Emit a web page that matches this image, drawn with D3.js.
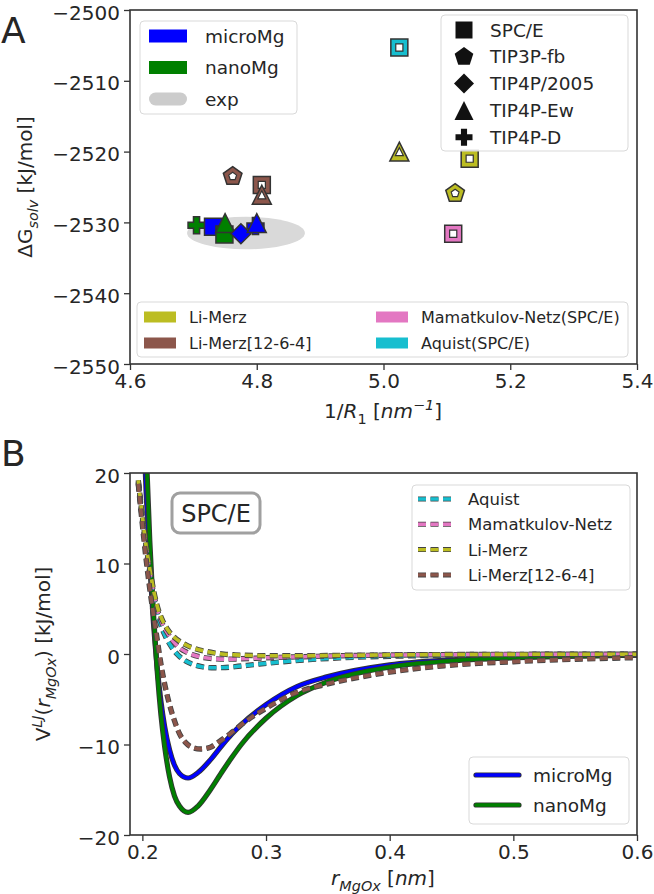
<!DOCTYPE html>
<html><head><meta charset="utf-8">
<script src="https://cdn.jsdelivr.net/npm/d3@7"></script>
<style>body{margin:0;background:#fff}svg{display:block;font-family:"DejaVu Sans",sans-serif}</style>
</head><body><svg id="c" width="654" height="894"></svg>
<script>
// ---------------- Panel A data ----------------
const invRTicks = [4.6, 4.8, 5.0, 5.2, 5.4];
const dGTicks = [-2550, -2540, -2530, -2520, -2510, -2500];
const waterModels = ["SPC/E", "TIP3P-fb", "TIP4P/2005", "TIP4P-Ew", "TIP4P-D"];
const waterShapes = ["square", "pentagon", "diamond", "triangle", "plus"];
const ionModels = ["Li-Merz", "Li-Merz[12-6-4]", "Mamatkulov-Netz(SPC/E)", "Aquist(SPC/E)"];
const ionColors = ["#bcbd22", "#8c564b", "#e377c2", "#17becf"];
const mgModels = ["microMg", "nanoMg"];
const mgColors = ["#0000ff", "#008000"];

const microMgWater = ["SPC/E", "TIP4P/2005", "TIP4P-D", "TIP4P-Ew"];
const microMgInvR = [4.731, 4.775, 4.798, 4.800];
const microMgDG = [-2530.6, -2531.6, -2530.5, -2530.1];
const nanoMgWater = ["TIP4P-D", "SPC/E", "TIP4P-Ew"];
const nanoMgInvR = [4.705, 4.749, 4.750];
const nanoMgDG = [-2530.4, -2531.7, -2530.1];
const liMerzWater = ["TIP4P-Ew", "SPC/E", "TIP3P-fb"];
const liMerzInvR = [5.025, 5.136, 5.113];
const liMerzDG = [-2520.0, -2521.0, -2525.9];
const liMerz1264Water = ["TIP3P-fb", "SPC/E", "TIP4P-Ew"];
const liMerz1264InvR = [4.762, 4.808, 4.808];
const liMerz1264DG = [-2523.5, -2524.7, -2526.1];
const mamatkulovWater = ["SPC/E"];
const mamatkulovInvR = [5.110];
const mamatkulovDG = [-2531.6];
const aquistWater = ["SPC/E"];
const aquistInvR = [5.025];
const aquistDG = [-2505.3];
const expInvR = 4.783, expInvRErr = 0.093, expDG = -2531.5, expDGErr = 2.3;

// ---------------- Panel B data ----------------
const rTicks = [0.2, 0.3, 0.4, 0.5, 0.6];
const vTicks = [-20, -10, 0, 10, 20];
const microR = [0.200,0.203,0.206,0.209,0.212,0.215,0.218,0.222,0.226,0.230,0.237,0.245,0.255,0.265,0.272,0.280,0.300,0.325,0.350,0.400,0.450,0.500,0.550,0.600];
const microV = [28.7,18.0,9.8,3.4,-1.5,-5.2,-8.0,-10.6,-12.3,-13.2,-13.7,-13.1,-11.7,-10.0,-8.9,-7.8,-5.6,-3.6,-2.5,-1.2,-0.65,-0.38,-0.22,-0.12];
const nanoR = [0.200,0.203,0.206,0.209,0.212,0.215,0.218,0.222,0.226,0.230,0.237,0.245,0.255,0.265,0.272,0.280,0.300,0.325,0.350,0.400,0.450,0.500,0.550,0.600];
const nanoV = [36.7,23.0,12.5,4.4,-1.9,-6.7,-10.2,-13.6,-15.7,-16.8,-17.5,-16.8,-15.0,-12.9,-11.5,-10.0,-7.1,-4.6,-3.05,-1.45,-0.75,-0.42,-0.24,-0.14];
const aquistR = [0.1967,0.200,0.203,0.206,0.209,0.212,0.216,0.220,0.224,0.228,0.233,0.240,0.248,0.256,0.265,0.275,0.290,0.310,0.335,0.360,0.400,0.450,0.500,0.600];
const aquistV = [18.9,14.9,11.6,8.8,6.4,4.5,2.8,1.6,0.7,0.0,-0.6,-1.1,-1.4,-1.52,-1.5,-1.4,-1.18,-0.9,-0.62,-0.43,-0.25,-0.14,-0.08,-0.03];
const mamatkulovR = [0.1967,0.200,0.203,0.206,0.209,0.212,0.216,0.220,0.225,0.230,0.235,0.240,0.248,0.258,0.268,0.280,0.300,0.330,0.360,0.400,0.450,0.500,0.600];
const mamatkulovV = [19.0,15.0,11.8,9.1,6.8,5.0,3.4,2.4,1.4,0.7,0.25,-0.05,-0.35,-0.52,-0.57,-0.53,-0.42,-0.3,-0.2,-0.12,-0.07,-0.04,-0.02];
const liMerzR = [0.1967,0.200,0.203,0.206,0.209,0.212,0.216,0.220,0.225,0.230,0.236,0.242,0.250,0.258,0.266,0.275,0.290,0.305,0.330,0.360,0.400,0.450,0.500,0.600];
const liMerzV = [19.2,15.2,12.0,9.4,7.1,5.3,3.8,2.8,1.95,1.4,0.95,0.62,0.33,0.12,-0.02,-0.1,-0.17,-0.2,-0.19,-0.15,-0.1,-0.06,-0.04,-0.02];
const liMerz1264R = [0.1967,0.200,0.203,0.206,0.209,0.212,0.215,0.218,0.222,0.226,0.230,0.235,0.240,0.247,0.255,0.262,0.272,0.285,0.300,0.322,0.350,0.378,0.400,0.444,0.500,0.556,0.600];
const liMerz1264V = [18.8,14.3,10.5,7.2,4.3,1.6,-1.1,-3.3,-5.6,-7.4,-8.8,-9.8,-10.3,-10.5,-10.3,-9.7,-8.7,-7.3,-6.0,-4.4,-3.3,-2.5,-2.0,-1.3,-0.85,-0.55,-0.4];
const dashedLabels = ["Aquist", "Mamatkulov-Netz", "Li-Merz", "Li-Merz[12-6-4]"];

// ---------------- helpers ----------------
const svg = d3.select("#c");
const INK = "#262626", EDGE = "#333333";

function shapePath(shape, r) {
  if (shape === "square") { const s = r * 0.85; return `M${-s},${-s}H${s}V${s}H${-s}Z`; }
  if (shape === "pentagon") {
    const R = r * 0.98; let p = "";
    for (let k = 0; k < 5; k++) { const a = (-90 + 72 * k) * Math.PI / 180; p += (k ? "L" : "M") + (R * Math.cos(a)).toFixed(2) + "," + (R * Math.sin(a)).toFixed(2); }
    return p + "Z";
  }
  if (shape === "diamond") { const d = r * 1.0; return `M0,${-d}L${d},0L0,${d}L${-d},0Z`; }
  if (shape === "triangle") { const t = r * 0.95; return `M0,${-t}L${t},${t}L${-t},${t}Z`; }
  if (shape === "plus") {
    const a = r * 0.85, b = a * 0.36;
    return `M${-b},${-a}H${b}V${-b}H${a}V${b}H${b}V${a}H${-b}V${b}H${-a}V${-b}H${-b}Z`;
  }
}
const shapeOf = w => waterShapes[waterModels.indexOf(w)];

function addText(g, x, y, parts, opts) {
  const t = g.append("text").attr("x", x).attr("y", y).attr("fill", INK)
    .attr("font-size", opts.size).attr("text-anchor", opts.anchor || "start");
  if (opts.rotate) t.attr("transform", `rotate(${opts.rotate},${x},${y})`);
  let shift = 0;
  parts.forEach(p => {
    const s = t.append("tspan").text(p.t);
    if (p.i) s.attr("font-style", "italic");
    const target = p.sub ? opts.size * 0.28 : p.sup ? -opts.size * 0.38 : 0;
    if (target !== shift) { s.attr("dy", target - shift); shift = target; }
    if (p.sub || p.sup) s.attr("font-size", opts.size * 0.72);
  });
  return t;
}
function styleAxis(a, isY) {
  a.select(".domain").remove();
  a.selectAll("line").attr("stroke", EDGE).attr("stroke-width", 1.3);
  a.selectAll("text").attr("fill", INK).attr("font-size", 20).attr("font-family", "DejaVu Sans");
  if (isY) a.selectAll("text").attr("dy", "0.45em");
}

// ---------------- Panel A ----------------
const xA = d3.scaleLinear().domain([4.6, 5.4]).range([130, 637]);
const yA = d3.scaleLinear().domain([-2550, -2500]).range([364, 10]);
const gA = svg.append("g");

gA.append("ellipse")
  .attr("cx", xA(expInvR)).attr("cy", yA(expDG))
  .attr("rx", xA(expInvR + expInvRErr) - xA(expInvR))
  .attr("ry", yA(expDG - expDGErr) - yA(expDG))
  .attr("fill", "#d9d9d9");

function seriesPts(water, invR, dG, color, hollow) {
  return water.map((w, i) => ({ shape: shapeOf(w), x: invR[i], y: dG[i], color, hollow }));
}
const mgPts = [
  ...seriesPts(microMgWater, microMgInvR, microMgDG, mgColors[0], false),
  ...seriesPts(nanoMgWater, nanoMgInvR, nanoMgDG, mgColors[1], false)
].sort((a, b) => a.x - b.x);
const ionPts = [
  ...seriesPts(liMerzWater, liMerzInvR, liMerzDG, ionColors[0], true),
  ...seriesPts(liMerz1264Water, liMerz1264InvR, liMerz1264DG, ionColors[1], true),
  ...seriesPts(mamatkulovWater, mamatkulovInvR, mamatkulovDG, ionColors[2], true),
  ...seriesPts(aquistWater, aquistInvR, aquistDG, ionColors[3], true)
];
[...mgPts, ...ionPts].forEach(p => {
  const g = gA.append("g").attr("transform", `translate(${xA(p.x)},${yA(p.y)})`);
  g.append("path").attr("d", shapePath(p.shape, 10)).attr("fill", p.color)
    .attr("stroke", EDGE).attr("stroke-width", 1.5).attr("stroke-linejoin", "miter");
  if (p.hollow) {
    g.append("path").attr("d", shapePath(p.shape, 4.2)).attr("fill", "#fff")
      .attr("stroke", EDGE).attr("stroke-width", 1.2);
  }
});

const axAx = gA.append("g").attr("transform", "translate(0,364)")
  .call(d3.axisBottom(xA).tickValues(invRTicks).tickFormat(d3.format(".1f")).tickSize(6).tickPadding(4));
const axAy = gA.append("g").attr("transform", "translate(130,0)")
  .call(d3.axisLeft(yA).tickValues(dGTicks).tickFormat(d3.format("d")).tickSize(6).tickPadding(4));
styleAxis(axAx, false); styleAxis(axAy, true);
gA.append("rect").attr("x", 130).attr("y", 10).attr("width", 507).attr("height", 354)
  .attr("fill", "none").attr("stroke", EDGE).attr("stroke-width", 1.6);

function legendBox(g, x, y, w, h) {
  g.append("rect").attr("x", x).attr("y", y).attr("width", w).attr("height", h).attr("rx", 4)
    .attr("fill", "#fff").attr("fill-opacity", 0.85).attr("stroke", "#d9d9d9").attr("stroke-width", 1);
}
legendBox(gA, 140, 21, 157, 93);
const leg1Labels = [...mgModels, "exp"];
const leg1Colors = [...mgColors, "#cccccc"];
leg1Labels.forEach((lab, i) => {
  const cy = 36 + i * 31.5;
  gA.append("rect").attr("x", 149).attr("y", cy - 6.5).attr("width", 38).attr("height", 13)
    .attr("rx", lab === "exp" ? 6.5 : 0).attr("fill", leg1Colors[i]);
  gA.append("text").attr("x", 205).attr("y", cy + 6.5).attr("font-size", 18.5).attr("fill", INK).text(lab);
});

legendBox(gA, 441, 15, 187, 136);
waterModels.forEach((w, i) => {
  const cy = 30 + i * 26.8;
  gA.append("path").attr("transform", `translate(464,${cy})`).attr("d", shapePath(waterShapes[i], 10))
    .attr("fill", "#111");
  gA.append("text").attr("x", 490).attr("y", cy + 6.5).attr("font-size", 18.5).attr("fill", INK).text(w);
});

legendBox(gA, 137, 302, 491, 55);
ionModels.forEach((m, i) => {
  const col = Math.floor(i / 2), row = i % 2;
  const cy = 317 + row * 26;
  const x0 = col ? 376 : 144;
  gA.append("rect").attr("x", x0).attr("y", cy - 5.5).attr("width", 32).attr("height", 11).attr("fill", ionColors[i]);
  gA.append("text").attr("x", x0 + 45).attr("y", cy + 6).attr("font-size", 16).attr("fill", INK).text(m);
});

addText(gA, 32, 187, [{ t: "ΔG" }, { t: "solv", i: 1, sub: 1 }, { t: " [kJ/mol]" }], { size: 20, anchor: "middle", rotate: -90 });
addText(gA, 383, 418, [{ t: "1/" }, { t: "R", i: 1 }, { t: "1", sub: 1 }, { t: " [" }, { t: "nm", i: 1 }, { t: "−1", i: 1, sup: 1 }, { t: "]" }], { size: 20, anchor: "middle" });
gA.append("text").attr("x", 1).attr("y", 43).attr("font-size", 36).attr("fill", INK).text("A");

// ---------------- Panel B ----------------
const xB = d3.scaleLinear().domain([0.19, 0.6]).range([130, 637]);
const yB = d3.scaleLinear().domain([-20, 20]).range([835, 473]);
const gB = svg.append("g");
svg.append("defs").append("clipPath").attr("id", "clipB")
  .append("rect").attr("x", 130).attr("y", 473).attr("width", 507).attr("height", 362);
const plotB = gB.append("g").attr("clip-path", "url(#clipB)");
const line = d3.line().x(d => xB(d[0])).y(d => yB(d[1])).curve(d3.curveMonotoneX);
const zip = (a, b) => a.map((v, i) => [v, b[i]]);

const solid = [zip(microR, microV), zip(nanoR, nanoV)];
solid.forEach((pts, i) => {
  plotB.append("path").attr("d", line(pts)).attr("fill", "none").attr("stroke", EDGE).attr("stroke-width", 5.2);
  plotB.append("path").attr("d", line(pts)).attr("fill", "none").attr("stroke", mgColors[i]).attr("stroke-width", 3.4);
});
const dashed = [zip(aquistR, aquistV), zip(mamatkulovR, mamatkulovV), zip(liMerzR, liMerzV), zip(liMerz1264R, liMerz1264V)];
const dashedColors = [ionColors[3], ionColors[2], ionColors[0], ionColors[1]];
const DASH = "8,4.5";
dashed.forEach((pts, i) => {
  plotB.append("path").attr("d", line(pts)).attr("fill", "none").attr("stroke", "#444").attr("stroke-width", 5.4).attr("stroke-dasharray", DASH);
  plotB.append("path").attr("d", line(pts)).attr("fill", "none").attr("stroke", dashedColors[i]).attr("stroke-width", 3.6).attr("stroke-dasharray", DASH);
});

const axBx = gB.append("g").attr("transform", "translate(0,835)")
  .call(d3.axisBottom(xB).tickValues(rTicks).tickFormat(d3.format(".1f")).tickSize(6).tickPadding(4));
const axBy = gB.append("g").attr("transform", "translate(130,0)")
  .call(d3.axisLeft(yB).tickValues(vTicks).tickFormat(d3.format("d")).tickSize(6).tickPadding(4));
styleAxis(axBx, false); styleAxis(axBy, true);
gB.append("rect").attr("x", 130).attr("y", 473).attr("width", 507).attr("height", 362)
  .attr("fill", "none").attr("stroke", EDGE).attr("stroke-width", 1.6);

gB.append("rect").attr("x", 172).attr("y", 493).attr("width", 88).attr("height", 40).attr("rx", 8)
  .attr("fill", "#fff").attr("stroke", "#a0a0a0").attr("stroke-width", 3);
gB.append("text").attr("x", 216).attr("y", 522).attr("text-anchor", "middle").attr("font-size", 24).attr("fill", INK).text("SPC/E");

legendBox(gB, 412, 485, 218, 105);
dashedLabels.forEach((lab, i) => {
  const cy = 499 + i * 25.3;
  gB.append("line").attr("x1", 418).attr("x2", 455).attr("y1", cy).attr("y2", cy)
    .attr("stroke", "#444").attr("stroke-width", 5).attr("stroke-dasharray", DASH);
  gB.append("line").attr("x1", 418).attr("x2", 455).attr("y1", cy).attr("y2", cy)
    .attr("stroke", dashedColors[i]).attr("stroke-width", 3.4).attr("stroke-dasharray", DASH);
  gB.append("text").attr("x", 468).attr("y", cy + 6).attr("font-size", 16.5).attr("fill", INK).text(lab);
});

legendBox(gB, 469, 757, 160, 67);
mgModels.forEach((lab, i) => {
  const cy = 775 + i * 30;
  gB.append("line").attr("x1", 476).attr("x2", 519).attr("y1", cy).attr("y2", cy)
    .attr("stroke", EDGE).attr("stroke-width", 5.2).attr("stroke-linecap", "round");
  gB.append("line").attr("x1", 476).attr("x2", 519).attr("y1", cy).attr("y2", cy)
    .attr("stroke", mgColors[i]).attr("stroke-width", 3.4).attr("stroke-linecap", "round");
  gB.append("text").attr("x", 533).attr("y", cy + 6.5).attr("font-size", 18.5).attr("fill", INK).text(lab);
});

addText(gB, 50, 654, [{ t: "V" }, { t: "LJ", i: 1, sup: 1 }, { t: "(" }, { t: "r", i: 1 }, { t: "MgOx", i: 1, sub: 1 }, { t: ")" }, { t: " [kJ/mol]" }], { size: 20, anchor: "middle", rotate: -90 });
addText(gB, 383, 885, [{ t: "r", i: 1 }, { t: "MgOx", i: 1, sub: 1 }, { t: " [" }, { t: "nm", i: 1 }, { t: "]" }], { size: 20, anchor: "middle" });
gB.append("text").attr("x", 1).attr("y", 466).attr("font-size", 36).attr("fill", INK).text("B");
</script></body></html>
